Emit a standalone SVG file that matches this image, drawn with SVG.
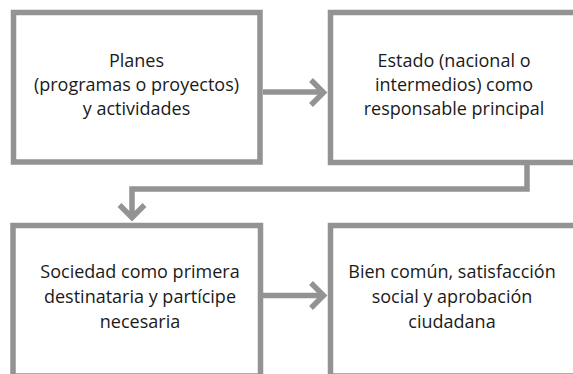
<svg xmlns="http://www.w3.org/2000/svg" width="573" height="374" viewBox="0 0 573 374">
<style>
.box{fill:#fff;stroke:#939393;stroke-width:5.5}
.conn{fill:none;stroke:#939393;stroke-width:5.5;stroke-linejoin:miter}
.lbl{font-family:"Open Sans","Noto Sans",sans-serif;font-size:18px;fill:#1a1a1a;text-anchor:middle}
</style>
<rect width="573" height="374" fill="#fff"/>
<g id="node-planes">
<rect class="box" x="13.5" y="12.5" width="246.5" height="149.5"/>
<text class="lbl"><tspan x="136.5" y="67">Planes</tspan><tspan x="136.5" y="91">(programas o proyectos)</tspan><tspan x="136.5" y="115">y actividades</tspan></text>
</g>
<g id="node-estado">
<rect class="box" x="330.5" y="12.5" width="260" height="150"/>
<text class="lbl"><tspan x="454" y="67">Estado (nacional o</tspan><tspan x="454" y="91">intermedios) como</tspan><tspan x="454" y="115">responsable principal</tspan></text>
</g>
<g id="node-sociedad">
<rect class="box" x="13" y="225.5" width="247.5" height="150.5"/>
<text class="lbl"><tspan x="140" y="278">Sociedad como primera</tspan><tspan x="140" y="303">destinataria y partícipe</tspan><tspan x="140" y="328">necesaria</tspan></text>
</g>
<g id="node-bien">
<rect class="box" x="330.5" y="225.5" width="260" height="150.5"/>
<text class="lbl"><tspan x="452" y="278">Bien común, satisfacción</tspan><tspan x="452" y="303">social y aprobación</tspan><tspan x="452" y="328">ciudadana</tspan></text>
</g>
<g id="connectors">
<path class="conn" d="M263,92 H324"/>
<polyline class="conn" points="311,80 323.5,92.5 311,105"/>
<path class="conn" d="M527,162 V189 H132 V218"/>
<polyline class="conn" points="119.5,205 132,217.5 144.5,205"/>
<path class="conn" d="M263,295.5 H324"/>
<polyline class="conn" points="311,283 323.5,295.5 311,308"/>
</g>
</svg>
